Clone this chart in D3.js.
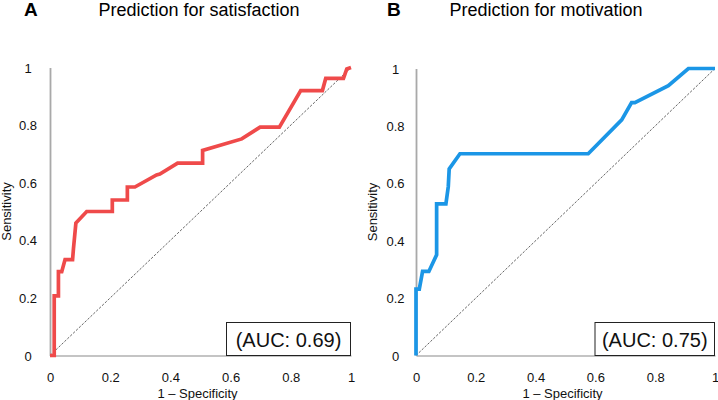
<!DOCTYPE html>
<html>
<head>
<meta charset="utf-8">
<script src="https://cdn.jsdelivr.net/npm/d3@7"></script>
<style>
  html, body { margin: 0; padding: 0; background: #fff; }
  svg { display: block; font-family: "Liberation Sans", Arial, sans-serif; }
</style>
</head>
<body>
<svg id="chart" width="718" height="400"></svg>
<script>
// ---- data ----
const panelLetters = ["A", "B"];
const panelTitles = ["Prediction for satisfaction", "Prediction for motivation"];
const aucLabels = ["(AUC: 0.69)", "(AUC: 0.75)"];
const tickValues = [0, 0.2, 0.4, 0.6, 0.8, 1];
const tickLabels = ["0", "0.2", "0.4", "0.6", "0.8", "1"];
const xAxisTitle = "1 – Specificity";
const yAxisTitle = "Sensitivity";

const satFpr = [0, 0.014, 0.014, 0.028, 0.028, 0.039, 0.05, 0.075, 0.078, 0.086, 0.122, 0.207, 0.207, 0.257, 0.257, 0.282, 0.354, 0.365, 0.424, 0.507, 0.507, 0.637, 0.698, 0.762, 0.833, 0.905, 0.916, 0.975, 0.986, 1];
const satTpr = [0, 0, 0.207, 0.207, 0.291, 0.291, 0.333, 0.333, 0.372, 0.46, 0.5, 0.5, 0.54, 0.54, 0.585, 0.585, 0.627, 0.63, 0.668, 0.668, 0.712, 0.752, 0.793, 0.793, 0.92, 0.92, 0.962, 0.962, 0.995, 1];

const motFpr = [0, 0, 0.011, 0.022, 0.043, 0.069, 0.069, 0.1, 0.108, 0.111, 0.147, 0.576, 0.688, 0.721, 0.732, 0.844, 0.911, 1];
const motTpr = [0, 0.231, 0.231, 0.293, 0.293, 0.351, 0.528, 0.528, 0.589, 0.65, 0.703, 0.703, 0.821, 0.881, 0.881, 0.94, 1, 1];

const seriesFpr = [satFpr, motFpr];
const seriesTpr = [satTpr, motTpr];
const seriesColors = ["#ef4a4a", "#1b96e6"];

// ---- layout ----
const panels = [
  { x0: 50, x1: 351, y0: 355.5, y1: 67.5, letterX: 24, titleX: 199, labX: 28, yTitleX: 10.5, boxX0: 226.5, boxX1: 350.5 },
  { x0: 416, x1: 715, y0: 355.5, y1: 68.5, letterX: 387, titleX: 546, labX: 395.5, yTitleX: 377, boxX0: 595, boxX1: 714.5 }
];

const svg = d3.select("#chart");

panels.forEach((p, i) => {
  const x = d3.scaleLinear().domain([0, 1]).range([p.x0, p.x1]);
  const y = d3.scaleLinear().domain([0, 1]).range([p.y0, p.y1]);
  const g = svg.append("g");

  // panel letter & title
  g.append("text").attr("x", p.letterX).attr("y", 16)
    .attr("font-size", 19).attr("font-weight", "bold").attr("fill", "#000")
    .text(panelLetters[i]);
  g.append("text").attr("x", p.titleX).attr("y", 15.5)
    .attr("text-anchor", "middle").attr("font-size", 18).attr("fill", "#000")
    .text(panelTitles[i]);

  // diagonal reference
  g.append("line")
    .attr("x1", x(0)).attr("y1", y(0)).attr("x2", x(1)).attr("y2", y(1))
    .attr("stroke", "#555").attr("stroke-width", 0.9).attr("stroke-dasharray", "2.5,1.5");

  // x axis
  const xa = g.append("g").attr("transform", `translate(0,${p.y0})`)
    .call(d3.axisBottom(x).tickValues(tickValues).tickFormat((d, k) => tickLabels[k]).tickSize(0).tickPadding(0));
  xa.attr("font-family", null).attr("font-size", null);
  xa.select(".domain").attr("stroke", "#8a8a8a").attr("stroke-width", 1.2);
  xa.selectAll("text").attr("y", 21.8).attr("dy", "0.35em")
    .attr("font-size", 13).attr("fill", "#111");

  // y axis
  const ya = g.append("g").attr("transform", `translate(${p.x0},0)`)
    .call(d3.axisLeft(y).tickValues(tickValues).tickFormat((d, k) => tickLabels[k]).tickSize(0).tickPadding(0));
  ya.attr("font-family", null).attr("font-size", null);
  ya.select(".domain").attr("stroke", "#a9a9a9").attr("stroke-width", 1.8);
  ya.selectAll("text").attr("x", p.labX - p.x0).attr("dy", "0.35em").attr("text-anchor", "middle")
    .attr("font-size", 13).attr("fill", "#111");

  // axis titles
  g.append("text").attr("x", (p.x0 + p.x1) / 2 - 3).attr("y", 397.5)
    .attr("text-anchor", "middle").attr("font-size", 13).attr("fill", "#111")
    .text(xAxisTitle);
  g.append("text")
    .attr("transform", `translate(${p.yTitleX},${(p.y0 + p.y1) / 2}) rotate(-90)`)
    .attr("text-anchor", "middle").attr("font-size", 13).attr("fill", "#111")
    .text(yAxisTitle);

  // ROC curve
  const pts = seriesFpr[i].map((f, k) => [f, seriesTpr[i][k]]);
  g.append("path").datum(pts)
    .attr("fill", "none").attr("stroke", seriesColors[i]).attr("stroke-width", 3.7)
    .attr("stroke-linejoin", "miter")
    .attr("d", d3.line().x(d => x(d[0])).y(d => y(d[1])));

  // AUC box
  g.append("rect").attr("x", p.boxX0).attr("y", 322.5)
    .attr("width", p.boxX1 - p.boxX0).attr("height", p.y0 - 322.5)
    .attr("fill", "#fff").attr("stroke", "#222").attr("stroke-width", 1);
  g.append("text").attr("x", (p.boxX0 + p.boxX1) / 2).attr("y", 346.5)
    .attr("text-anchor", "middle").attr("font-size", 20).attr("fill", "#111")
    .text(aucLabels[i]);
});
</script>
</body>
</html>
